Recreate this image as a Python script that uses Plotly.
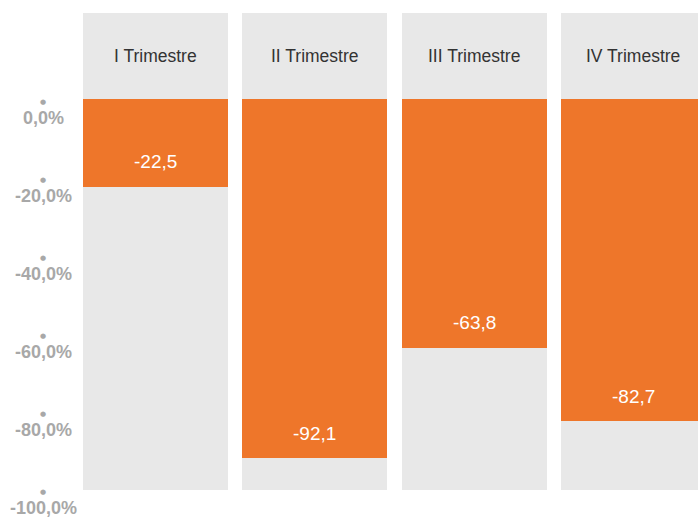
import plotly.graph_objects as go

categories = ["I Trimestre", "II Trimestre", "III Trimestre", "IV Trimestre"]
values = [-22.5, -92.1, -63.8, -82.7]
value_labels = ["-22,5", "-92,1", "-63,8", "-82,7"]
tick_values = [0, -20, -40, -60, -80, -100]
tick_labels = ["0,0%", "-20,0%", "-40,0%", "-60,0%", "-80,0%", "-100,0%"]

Y_MIN, Y_MAX = -100.3, 22.05
ORANGE = "#EE762A"
GREY = "#E8E8E8"
xs = list(range(len(categories)))

fig = go.Figure()
fig.add_trace(go.Bar(x=xs, y=[Y_MAX - Y_MIN] * len(xs), base=[Y_MIN] * len(xs),
                     marker=dict(color=GREY, line=dict(width=0)), width=0.91,
                     hoverinfo="skip", showlegend=False))
fig.add_trace(go.Bar(x=xs, y=values, marker=dict(color=ORANGE, line=dict(width=0)),
                     width=0.91, showlegend=False))

for i, c in enumerate(categories):
    fig.add_annotation(x=i, y=11.0, text=c, showarrow=False, xref="x", yref="y",
                       font=dict(family="Liberation Sans", size=17.5, color="#333333"))
for i, (v, t) in enumerate(zip(values, value_labels)):
    fig.add_annotation(x=i, y=v, text=t, showarrow=False, yshift=25, xref="x", yref="y",
                       font=dict(family="Liberation Sans", size=19, color="white"))
for v, t in zip(tick_values, tick_labels):
    fig.add_annotation(x=-0.053, y=v, xref="paper", yref="y", text="●", showarrow=False,
                       xanchor="center", yshift=-3,
                       font=dict(family="DejaVu Sans", size=7, color="#A8A8A8"))
    fig.add_annotation(x=-0.053, y=v, xref="paper", yref="y", text=t, showarrow=False,
                       xanchor="center", yshift=-19,
                       font=dict(family="Liberation Sans", size=18, color="#A8A8A8",
                                 weight="bold"))

fig.update_layout(
    width=698, height=517,
    margin=dict(l=76, r=0, t=13, b=27),
    barmode="overlay", bargap=0,
    plot_bgcolor="white", paper_bgcolor="white",
    xaxis=dict(range=[-0.5, 3.406], showticklabels=False, showgrid=False, zeroline=False,
               fixedrange=True),
    yaxis=dict(range=[Y_MIN, Y_MAX], showticklabels=False, showgrid=False, zeroline=False,
               fixedrange=True),
)
fig.write_html("out.html", config={"displayModeBar": False},
               post_script="document.body.style.margin='0';document.body.style.overflow='hidden';")
